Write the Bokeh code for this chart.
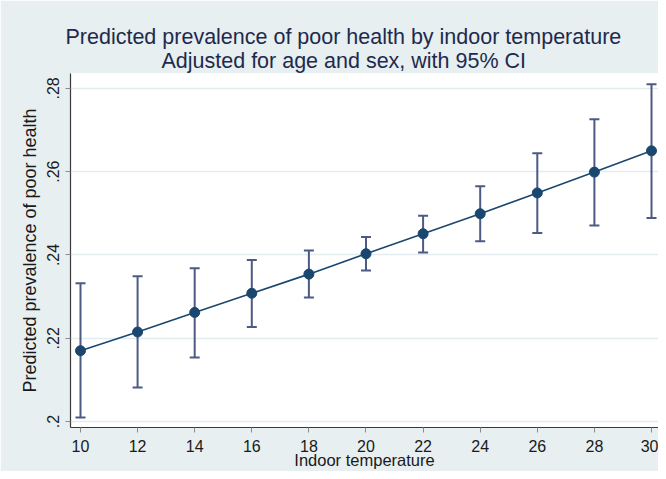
from bokeh.plotting import figure
from bokeh.models import ColumnDataSource, Whisker, TeeHead, Title, FixedTicker
from bokeh.embed import file_html
from bokeh.resources import INLINE

# ---- data ----
temperature = [10, 12, 14, 16, 18, 20, 22, 24, 26, 28, 30]
prevalence = [0.2170, 0.2215, 0.2262, 0.2308, 0.2354, 0.2403, 0.2451, 0.2499, 0.2549, 0.2599, 0.2650]
ci_lower = [0.2010, 0.2082, 0.2154, 0.2227, 0.2298, 0.2363, 0.2406, 0.2433, 0.2453, 0.2471, 0.2489]
ci_upper = [0.2332, 0.2349, 0.2368, 0.2388, 0.2411, 0.2443, 0.2494, 0.2565, 0.2644, 0.2726, 0.2810]
x_ticks = [10, 12, 14, 16, 18, 20, 22, 24, 26, 28, 30]
y_ticks = [0.20, 0.22, 0.24, 0.26, 0.28]
y_tick_labels = [".2", ".22", ".24", ".26", ".28"]
title_line1 = "Predicted prevalence of poor health by indoor temperature"
title_line2 = "Adjusted for age and sex, with 95% CI"
x_title = "Indoor temperature"
y_title = "Predicted prevalence of poor health"

FONT = "Liberation Sans"
BG = "#e7eff1"
NAVY = "#1a476f"
CI_COLOR = "#4d5a86"
TXT = "#1a1a1a"
TITLE_COLOR = "#1e2a4c"

src = ColumnDataSource(dict(x=temperature, y=prevalence, lo=ci_lower, hi=ci_upper))

p = figure(width=658, height=471, output_backend="svg", toolbar_location=None,
           x_range=(9.650, 30.245), y_range=(0.19857, 0.28358),
           min_border_left=70, min_border_right=0, min_border_top=73, min_border_bottom=37)
p.background_fill_color = "white"
p.border_fill_color = BG
p.outline_line_color = None

# grid
p.xgrid.grid_line_color = None
p.ygrid.grid_line_color = "#e3ecef"
p.ygrid.grid_line_width = 1.5
p.ygrid.ticker = FixedTicker(ticks=y_ticks)

# axes
p.xaxis.ticker = FixedTicker(ticks=x_ticks)
p.yaxis.ticker = FixedTicker(ticks=y_ticks)
p.yaxis.major_label_overrides = {t: lab for t, lab in zip(y_ticks, y_tick_labels)}
p.yaxis.major_label_orientation = "vertical"
p.yaxis.axis_label = y_title
p.xaxis.axis_label = x_title
for ax in (p.xaxis, p.yaxis):
    ax.axis_line_color = "#3a3a3a"
    ax.axis_line_width = 1.2
    ax.major_tick_line_color = "#8a8a8a"
    ax.major_tick_out = 5
    ax.major_tick_in = 0
    ax.minor_tick_line_color = None
    ax.major_label_text_font = FONT
    ax.major_label_text_font_size = "16px"
    ax.major_label_text_color = TXT
    ax.axis_label_text_font = FONT
    ax.axis_label_text_font_style = "normal"
    ax.axis_label_text_color = TXT
p.xaxis.axis_label_text_font_size = "16.5px"
p.yaxis.axis_label_text_font_size = "18px"
p.xaxis.major_label_standoff = 7
p.xaxis.axis_label_standoff = -4
p.yaxis.major_label_standoff = 6
p.yaxis.axis_label_standoff = 5

# error bars
wh = Whisker(source=src, base="x", lower="lo", upper="hi", dimension="height",
             line_color=CI_COLOR, line_width=2,
             upper_head=TeeHead(size=10, line_color=CI_COLOR, line_width=2),
             lower_head=TeeHead(size=10, line_color=CI_COLOR, line_width=2))
p.add_layout(wh)

p.line("x", "y", source=src, line_color=NAVY, line_width=1.6)
p.scatter("x", "y", source=src, size=10, fill_color=NAVY, line_color=NAVY)

# titles (first added sits nearest the plot)
p.add_layout(Title(text=title_line2, align="left", offset=91, standoff=1,
                   text_font=FONT, text_font_size="21.5px", text_font_style="normal",
                   text_color=TITLE_COLOR), "above")
p.add_layout(Title(text=title_line1, align="left", offset=-5, standoff=-4,
                   text_font=FONT, text_font_size="21.5px", text_font_style="normal",
                   text_color=TITLE_COLOR), "above")

open("out.html", "w").write(file_html(p, INLINE))
